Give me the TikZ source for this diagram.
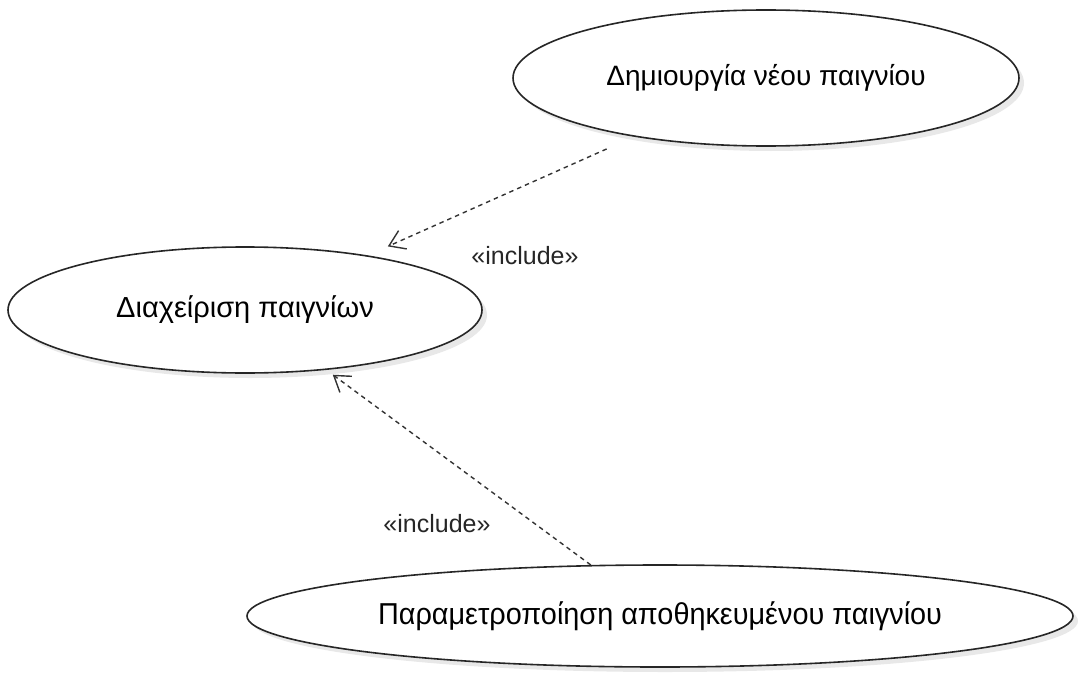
\documentclass[tikz,border=0pt]{standalone}
\usepackage{fontspec}
\setmainfont{Liberation Sans}
\usetikzlibrary{shapes.geometric,shadows,arrows.meta}

\tikzset{
  usecase/.style={
    ellipse, draw=black!85, line width=1.6pt, fill=white, inner sep=0pt,
    font=\fontsize{28}{32}\selectfont,
    drop shadow={opacity=0.18, shadow xshift=5pt, shadow yshift=-5pt}
  },
  includes/.style={
    draw=black!80, line width=1.4pt, dash pattern=on 4.5pt off 4pt,
    -{Straight Barb[length=15pt,width=20pt,line width=1.4pt]}
  },
  stereo/.style={font=\fontsize{25}{28}\selectfont, text=black!85}
}

\begin{document}
\begin{tikzpicture}[x=1pt,y=-1pt]
  \useasboundingbox (0,0) rectangle (1078,674);

  % use cases
  \node[usecase, minimum width=506pt, minimum height=136pt] (create) at (766,78)
    {Δημιουργία νέου παιγνίου};
  \node[usecase, minimum width=474pt, minimum height=126pt] (manage) at (245,310)
    {\fontsize{29}{32}\selectfont Διαχείριση παιγνίων};
  \node[usecase, minimum width=826pt, minimum height=102pt] (edit) at (660,616)
    {\scalebox{1.03}[1.08]{Παραμετροποίηση αποθηκευμένου παιγνίου}};

  % include dependencies
  \draw[includes, shorten <=30pt, shorten >=22pt] (create) -- (manage);
  \draw[includes, shorten >=8pt] (edit) -- (manage);

  % stereotype labels
  \node[stereo] (inc1) at (525,256) {«include»};
  \node[stereo] (inc2) at (437,524) {«include»};
\end{tikzpicture}
\end{document}
